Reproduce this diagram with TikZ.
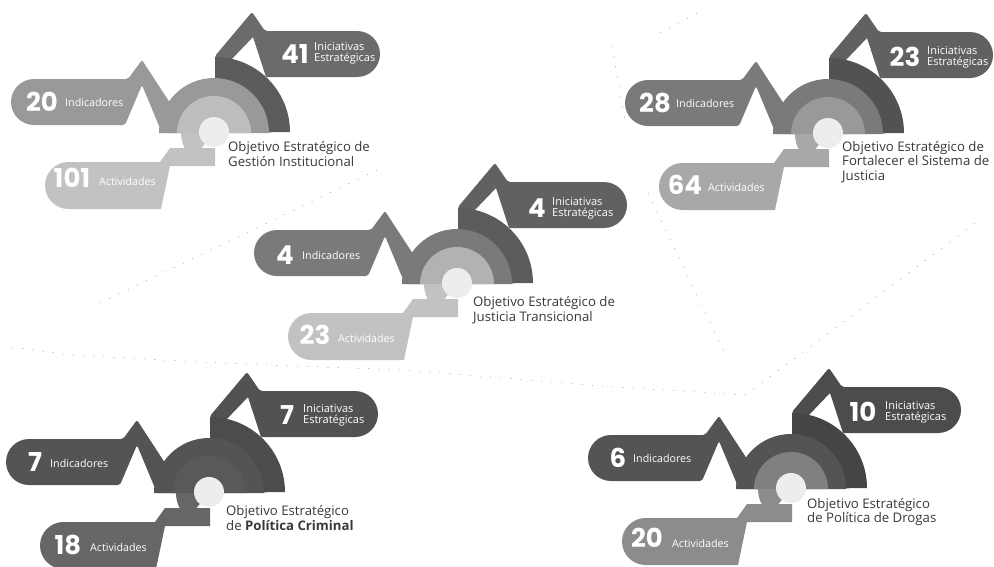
\documentclass[tikz,border=0pt]{standalone}
\usepackage{fontspec}
\setmainfont{Open Sans}
\newfontfamily\numfont{Poppins}
\tikzset{
  speck/.style={draw=black!40,line width=0.45pt,dash pattern=on 1.2pt off 9pt},
  bignum/.style={text=white,inner sep=0pt,font=\numfont\bfseries\fontsize{26}{26}\selectfont},
  smalllabel/.style={text=white,inner sep=0pt,anchor=west,font=\fontsize{10.7}{11}\selectfont},
  twolabel/.style={text=white,inner sep=0pt,anchor=west,align=left,font=\fontsize{11}{11.4}\selectfont},
  objlabel/.style={text=black!78,inner sep=0pt,anchor=west,align=left,font=\fontsize{13.2}{14.4}\selectfont},
}
% cx, cy, right end of the top pill, then six greys
\newcommand{\unitshape}[9]{%
  \definecolor{cIni}{gray}{#4}\definecolor{cDisc}{gray}{#5}\definecolor{cInd}{gray}{#6}%
  \definecolor{cMid}{gray}{#7}\definecolor{cIn}{gray}{#8}\definecolor{cAct}{gray}{#9}%
  \begin{scope}[shift={(#1,#2)}]
    \fill[cIni,rounded corners=2pt] (1,-50) -- (1,-76) -- (38,-120) -- (51,-101)
      [sharp corners] -- ({#3-#1-23},-101) arc[start angle=90,delta angle=-180,radius=23pt]
      -- (52,-55) -- (39,-95) -- (17,-72) -- cycle;
    \fill[cDisc] (1,1) -- (1,-75) arc[start angle=90,delta angle=-90,radius=75pt] -- cycle;
    \fill[cInd,rounded corners=2pt] (-180,-53) -- (-86,-53) -- (-72,-72) -- (-42,-26) -- (-25,1)
      -- (-52,1) -- (-72,-47) -- (-89,-7) [sharp corners] -- (-180,-7)
      arc[start angle=270,delta angle=-180,radius=23pt] -- cycle;
    \fill[cMid] (-55,1) arc[start angle=180,delta angle=-180,radius=55pt] -- cycle;
    \fill[cIn] (-37,1) arc[start angle=180,delta angle=-180,radius=37pt] -- cycle;
    \fill[cAct] (0,1) -- (-33,1) arc[start angle=180,delta angle=50,radius=33pt] -- cycle;
    \fill[cAct] (-145.5,30) -- (-54,30) -- (-44,16) -- (1,16) -- (1,34) -- (-44,34) -- (-53,77)
      -- (-145.5,77) arc[start angle=270,delta angle=-180,radius=23.5pt] -- cycle;
    \fill[black!7] (0,0) circle[radius=15pt];
  \end{scope}}
\begin{document}
\begin{tikzpicture}[x=1pt,y=-1pt]
\useasboundingbox (0,0) rectangle (994,566);
% faint specks
\draw[speck] (100,303) -- (290,212) -- (383,167);
\draw[speck] (12,347) -- (70,355) -- (200,362) -- (290,366) -- (407,370) -- (600,386) -- (745,395);
\draw[speck] (745,395) -- (763,382) -- (982,218);
\draw[speck] (648,193) -- (727,358);
\draw[speck] (660,33) -- (697,13);
\draw[speck] (612,46) -- (625,120);
% unit 1
\unitshape{214}{132}{380}{0.42}{0.36}{0.6}{0.6}{0.74}{0.76}
\node[bignum] (a1) at (42,102) {20};
\node[smalllabel] (a2) at (65,102) {Indicadores};
\node[bignum] (a3) at (295,54) {41};
\node[twolabel] (a4) at (314,53) {Iniciativas\\Estratégicas};
\node[bignum] (a5) at (72,178) {101};
\node[smalllabel] (a6) at (99,181) {Actividades};
\node[objlabel] (a7) at (228,154) {Objetivo Estratégico de\\Gestión Institucional};
% unit 2
\unitshape{828}{133}{993}{0.38}{0.32}{0.48}{0.48}{0.6}{0.66}
\node[bignum] (b1) at (655,103) {28};
\node[smalllabel] (b2) at (676,103) {Indicadores};
\node[bignum] (b3) at (905,57) {23};
\node[twolabel] (b4) at (927,57) {Iniciativas\\Estratégicas};
\node[bignum] (b5) at (685,185) {64};
\node[smalllabel] (b6) at (708,187) {Actividades};
\node[objlabel] (b7) at (842,162) {Objetivo Estratégico de\\Fortalecer el Sistema de\\Justicia};
% unit 3
\unitshape{457}{283}{627}{0.38}{0.36}{0.48}{0.48}{0.7}{0.76}
\node[bignum] (c1) at (285,255) {4};
\node[smalllabel] (c2) at (302,255) {Indicadores};
\node[bignum] (c3) at (537,208) {4};
\node[twolabel] (c4) at (552,208) {Iniciativas\\Estratégicas};
\node[bignum] (c5) at (315,335) {23};
\node[smalllabel] (c6) at (338,338) {Actividades};
\node[objlabel] (c7) at (473,310) {Objetivo Estratégico de\\Justicia Transicional};
% unit 4
\unitshape{209}{492}{378}{0.32}{0.3}{0.33}{0.33}{0.35}{0.4}
\node[bignum] (d1) at (35,462) {7};
\node[smalllabel] (d2) at (50,463) {Indicadores};
\node[bignum] (d3) at (287,415) {7};
\node[twolabel] (d4) at (303,415) {Iniciativas\\Estratégicas};
\node[bignum] (d5) at (68,545) {18};
\node[smalllabel] (d6) at (90,547) {Actividades};
\node[objlabel] (d7) at (226,518) {Objetivo Estratégico\\de \textbf{Política Criminal}};
% unit 5
\unitshape{791}{488}{961}{0.3}{0.27}{0.33}{0.33}{0.5}{0.55}
\node[bignum] (e1) at (618,458) {6};
\node[smalllabel] (e2) at (633,458) {Indicadores};
\node[bignum] (e3) at (863,412) {10};
\node[twolabel] (e4) at (885,412) {Iniciativas\\Estratégicas};
\node[bignum] (e5) at (647,538) {20};
\node[smalllabel] (e6) at (672,543) {Actividades};
\node[objlabel] (e7) at (807,512) {Objetivo Estratégico\\de Política de Drogas};
\end{tikzpicture}
\end{document}
